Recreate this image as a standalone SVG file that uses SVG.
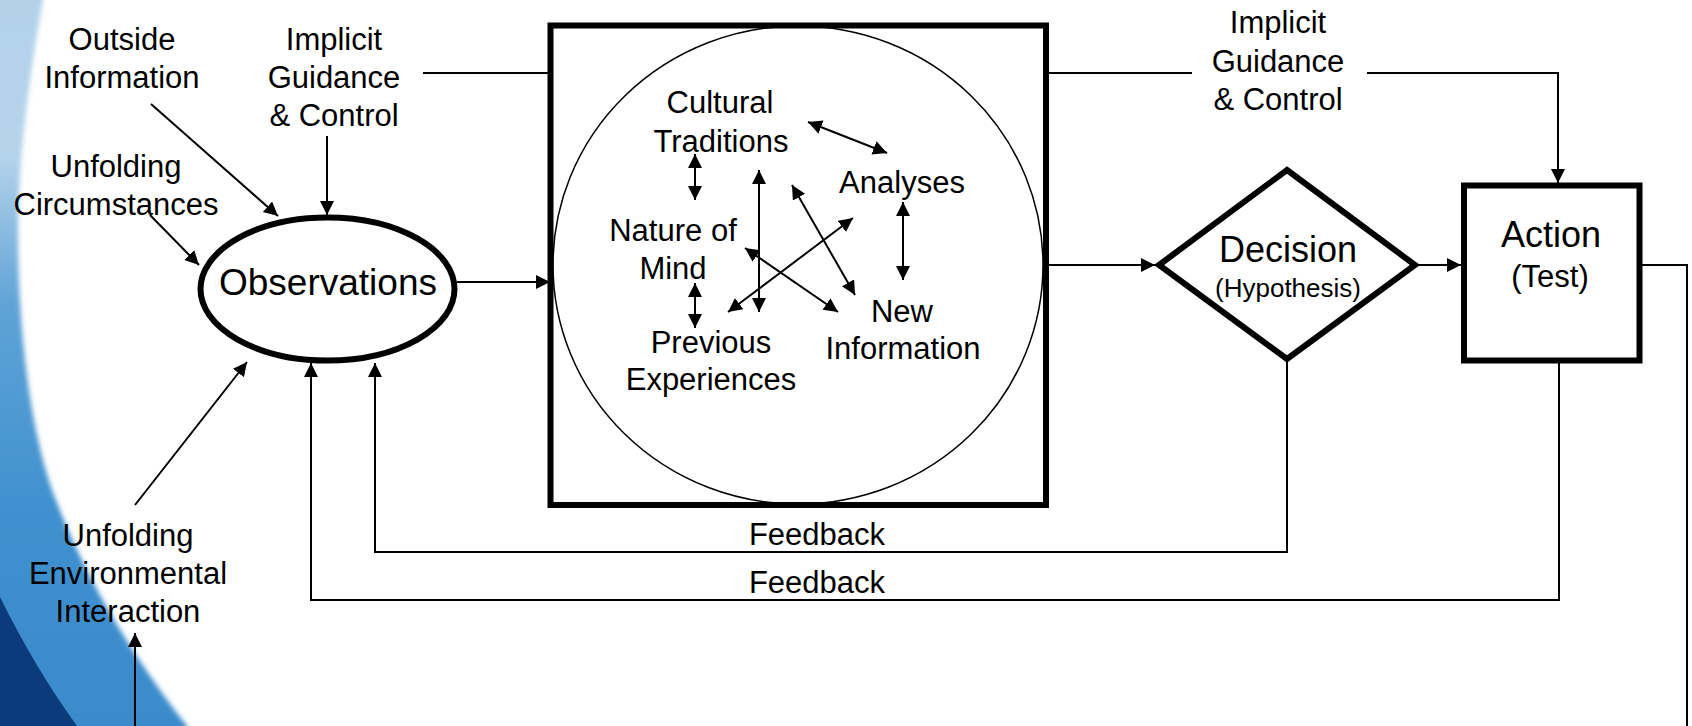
<svg xmlns="http://www.w3.org/2000/svg" width="1692" height="726" viewBox="0 0 1692 726">
<style>
  text { font-family: "Liberation Sans", Arial, sans-serif; fill: #000; text-anchor: middle; }
  .lbl { font-size: 31px; }
  .big { font-size: 37px; }
  .sub { font-size: 26px; }
  .thin { fill: none; stroke: #000; stroke-width: 2; }
  .arr { marker-end: url(#ah); }
  .dbl { marker-start: url(#ah); marker-end: url(#ah); }
  .thick { fill: #fff; stroke: #000; stroke-width: 6; }
</style>
<defs>
  <marker id="ah" markerUnits="userSpaceOnUse" markerWidth="16" markerHeight="16" refX="14" refY="7" orient="auto-start-reverse">
    <path d="M0,0 L14,7 L0,14 Z" fill="#000"/>
  </marker>
  <linearGradient id="bg" x1="0" y1="0" x2="0" y2="1">
    <stop offset="0" stop-color="#b3d2ea"/>
    <stop offset="0.22" stop-color="#b5d3eb"/>
    <stop offset="0.42" stop-color="#5fa3d6"/>
    <stop offset="0.7" stop-color="#3f90cf"/>
    <stop offset="1" stop-color="#3a8bcb"/>
  </linearGradient>
  <filter id="soft" x="-0.2" y="-0.05" width="1.4" height="1.1">
    <feGaussianBlur stdDeviation="2.5"/>
  </filter>
</defs>
<rect width="1692" height="726" fill="#fff"/>
<g id="background">
  <path d="M-10,-10 L45,-10 L43,0 C30,70 18,160 18,231 C18,320 28,420 52,490 C80,565 120,640 187,726 L187,740 L-10,740 Z" fill="url(#bg)" filter="url(#soft)"/>
  <path d="M0,597 Q35,668 77,726 L0,726 Z" fill="#0c3b7b"/>
</g>
<g id="connectors">
  <line class="thin arr" x1="151" y1="104" x2="278" y2="216"/>
  <line class="thin arr" x1="150" y1="215" x2="199" y2="265"/>
  <line class="thin arr" x1="327" y1="136" x2="327" y2="215"/>
  <line class="thin arr" x1="135" y1="505" x2="247" y2="362"/>
  <line class="thin arr" x1="135" y1="726" x2="135" y2="633"/>
  <polyline class="thin arr" points="1287,362 1287,552 375,552 375,363"/>
  <polyline class="thin arr" points="1559,363 1559,600 311,600 311,363"/>
  <line class="thin arr" x1="457" y1="282" x2="550" y2="282"/>
  <line class="thin" x1="423" y1="73" x2="550" y2="73"/>
  <line class="thin arr" x1="1049" y1="265" x2="1155" y2="265"/>
  <line class="thin" x1="1049" y1="73" x2="1192" y2="73"/>
  <polyline class="thin arr" points="1367,73 1558,73 1558,183"/>
  <line class="thin arr" x1="1418" y1="265" x2="1461" y2="265"/>
  <polyline class="thin" points="1642,265 1687,265 1687,726"/>
</g>
<g id="outside-information">
  <text class="lbl" x="122" y="50">Outside</text>
  <text class="lbl" x="122" y="88">Information</text>
</g>
<g id="implicit-left">
  <text class="lbl" x="334" y="50">Implicit</text>
  <text class="lbl" x="334" y="88">Guidance</text>
  <text class="lbl" x="334" y="126">&amp; Control</text>
</g>
<g id="unfolding-circumstances">
  <text class="lbl" x="116" y="177">Unfolding</text>
  <text class="lbl" x="116" y="215">Circumstances</text>
</g>
<g id="unfolding-environmental">
  <text class="lbl" x="128" y="546">Unfolding</text>
  <text class="lbl" x="128" y="584">Environmental</text>
  <text class="lbl" x="128" y="622">Interaction</text>
</g>
<g id="observations">
  <ellipse class="thick" cx="327.5" cy="289" rx="127" ry="71.5" stroke-width="5"/>
  <text class="big" x="328" y="295">Observations</text>
</g>
<g id="orientation">
  <rect class="thick" x="550.5" y="25.5" width="495.5" height="479.5"/>
  <ellipse cx="798" cy="265" rx="245" ry="239" fill="none" stroke="#000" stroke-width="1.5"/>
  <text class="lbl" x="720" y="113">Cultural</text>
  <text class="lbl" x="721" y="152">Traditions</text>
  <text class="lbl" x="902" y="193">Analyses</text>
  <text class="lbl" x="673" y="241">Nature of</text>
  <text class="lbl" x="673" y="279">Mind</text>
  <text class="lbl" x="902" y="322">New</text>
  <text class="lbl" x="903" y="359">Information</text>
  <text class="lbl" x="711" y="353">Previous</text>
  <text class="lbl" x="711" y="390">Experiences</text>
  <g id="inner-connectors">
    <line class="thin dbl" x1="808" y1="122" x2="887" y2="153"/>
    <line class="thin dbl" x1="695" y1="154" x2="695" y2="200"/>
    <line class="thin dbl" x1="759" y1="170" x2="759" y2="312"/>
    <line class="thin dbl" x1="792" y1="185" x2="855" y2="295"/>
    <line class="thin dbl" x1="903" y1="202" x2="903" y2="280"/>
    <line class="thin dbl" x1="853" y1="218" x2="728" y2="312"/>
    <line class="thin dbl" x1="745" y1="248" x2="838" y2="312"/>
    <line class="thin dbl" x1="695" y1="283" x2="695" y2="328"/>
  </g>
</g>
<g id="implicit-right">
  <text class="lbl" x="1278" y="33">Implicit</text>
  <text class="lbl" x="1278" y="72">Guidance</text>
  <text class="lbl" x="1278" y="110">&amp; Control</text>
</g>
<g id="decision">
  <polygon class="thick" points="1287,170 1415,265 1287,359 1159,265" stroke-width="7"/>
  <text x="1288" y="262" font-size="36">Decision</text>
  <text class="sub" x="1288" y="297">(Hypothesis)</text>
</g>
<g id="action">
  <rect class="thick" x="1464" y="185.5" width="175.5" height="175"/>
  <text x="1551" y="247" font-size="36">Action</text>
  <text class="lbl" x="1550" y="287">(Test)</text>
</g>
<g id="feedback-labels">
  <text class="lbl" x="817" y="545">Feedback</text>
  <text class="lbl" x="817" y="593">Feedback</text>
</g>
</svg>
